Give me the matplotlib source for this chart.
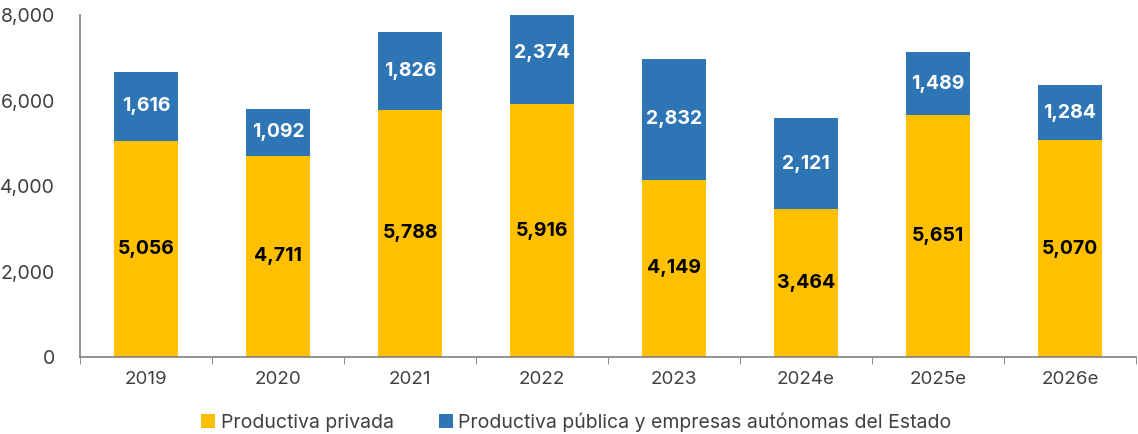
import matplotlib.pyplot as plt
import numpy as np

years = ['2019', '2020', '2021', '2022', '2023', '2024e', '2025e', '2026e']
privada = [5056, 4711, 5788, 5916, 4149, 3464, 5651, 5070]
publica = [1616, 1092, 1826, 2374, 2832, 2121, 1489, 1284]

c_priv = '#FFC000'
c_pub = '#2E75B6'
txt = '#404040'

plt.rcParams['font.family'] = ['Inter', 'DejaVu Sans']

fig = plt.figure(figsize=(11.38, 4.34), dpi=100)
ax = fig.add_axes([0.0703, 0.1774, 0.928, 0.788])

x = np.arange(len(years))
w = 0.49
b1 = ax.bar(x, privada, w, color=c_priv, label='Productiva privada', zorder=2)
b2 = ax.bar(x, publica, w, bottom=privada, color=c_pub,
            label='Productiva pública y empresas autónomas del Estado', zorder=2)

for i in range(len(years)):
    ax.text(x[i], privada[i] / 2, f'{privada[i]:,}', ha='center', va='center',
            fontsize=14, fontweight='bold', color='black')
    ax.text(x[i], privada[i] + publica[i] / 2, f'{publica[i]:,}', ha='center', va='center',
            fontsize=14, fontweight='bold', color='white')

ax.set_xlim(-0.5, len(years) - 0.5)
ax.set_ylim(0, 8000)
ax.set_yticks(range(0, 8001, 2000))
ax.set_yticklabels([f'{v:,}' for v in range(0, 8001, 2000)])
ax.set_xticks(x)
ax.set_xticklabels(years)
ax.set_xticks(np.arange(-0.5, len(years), 1), minor=True)

ax.tick_params(axis='y', length=0, labelsize=14, colors=txt, pad=18)
ax.tick_params(axis='x', which='major', length=0, labelsize=13.5, colors=txt, pad=10)
ax.tick_params(axis='x', which='minor', length=5, color='#7F7F7F', direction='out')

for s in ['top', 'right']:
    ax.spines[s].set_visible(False)
for s in ['left', 'bottom']:
    ax.spines[s].set_color('#7F7F7F')
    ax.spines[s].set_linewidth(1.2)

leg = ax.legend(loc='upper center', bbox_to_anchor=(0.47, -0.11), ncol=2, frameon=False,
                fontsize=14, handlelength=0.72, handleheight=0.72, handletextpad=0.3,
                columnspacing=2.3)
for t in leg.get_texts():
    t.set_color(txt)

fig.savefig('out.png', dpi=100)
